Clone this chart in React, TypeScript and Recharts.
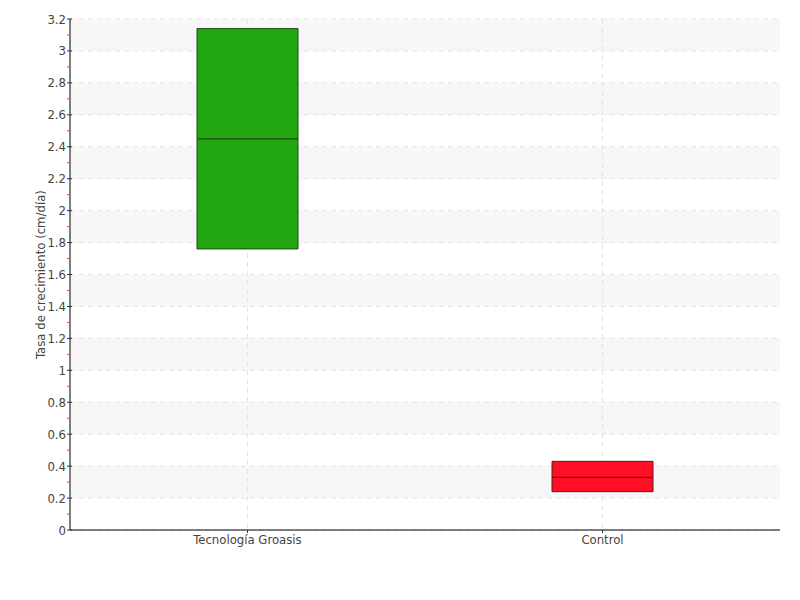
import { BarChart, Bar, XAxis, YAxis, CartesianGrid, Cell } from 'recharts';

const categories = ['Tecnología Groasis', 'Control'];
const q1Values = [1.76, 0.24];
const medianValues = [2.45, 0.33];
const q3Values = [3.14, 0.43];

const boxFills = ['#22a60f', '#ff0f26'];
const boxStrokes = ['#1f4a17', '#5a1a1a'];

const yTicks = [
  0, 0.1, 0.2, 0.3, 0.4, 0.5, 0.6, 0.7, 0.8, 0.9, 1, 1.1, 1.2, 1.3, 1.4, 1.5, 1.6,
  1.7, 1.8, 1.9, 2, 2.1, 2.2, 2.3, 2.4, 2.5, 2.6, 2.7, 2.8, 2.9, 3, 3.1, 3.2,
];
const gridValues = [0, 0.2, 0.4, 0.6, 0.8, 1, 1.2, 1.4, 1.6, 1.8, 2, 2.2, 2.4, 2.6, 2.8, 3, 3.2];

const FONT = '"DejaVu Sans Condensed", "Liberation Sans Narrow", sans-serif';

const rows = categories.map((name, i) => ({
  name,
  base: q1Values[i],
  lower: medianValues[i] - q1Values[i],
  upper: q3Values[i] - medianValues[i],
}));

function YTick({ x, y, payload }: { x?: number; y?: number; payload?: { value: number } }) {
  if (x == null || y == null || !payload) return null;
  const v = payload.value;
  const major = Math.round(v * 10) % 2 === 0;
  const ax = x + 4;
  if (!major) {
    return <line x1={ax - 3} x2={ax} y1={y} y2={y} stroke="#ff3b3b" />;
  }
  return (
    <g>
      <line x1={ax - 3} x2={ax + 2} y1={y} y2={y} stroke="#333" />
      <text x={x} y={y} dy={4.5} textAnchor="end" fontSize={13} fill="#444" fontFamily={FONT}>
        {Number(v.toFixed(1)).toString()}
      </text>
    </g>
  );
}

// vertical grid lines only through the category centres (band axis, no gaps)
const verticalAtCentres = (props: any) => {
  const off = props.offset;
  if (!off) return [];
  const n = categories.length;
  return categories.map((_, i) => off.left + (off.width * (i + 0.5)) / n);
};

export default function App() {
  return (
    <div style={{ position: 'absolute', left: 0, top: 0, background: '#fff' }}>
      <BarChart
        width={800}
        height={600}
        data={rows}
        margin={{ top: 19, right: 20, left: 10, bottom: 40 }}
        barCategoryGap={0}
      >
        <CartesianGrid
          stroke="#e4e4e4"
          strokeDasharray="5 4"
          horizontalValues={gridValues}
          horizontalFill={['#f7f7f7', '#ffffff']}
          verticalCoordinatesGenerator={verticalAtCentres}
        />
        <XAxis
          dataKey="name"
          height={30}
          tickSize={3}
          tickMargin={2}
          axisLine={{ stroke: '#000' }}
          tickLine={{ stroke: '#333' }}
          tick={{ fontSize: 13, fill: '#444', fontFamily: FONT }}
        />
        <YAxis
          type="number"
          domain={[0, 3.2]}
          ticks={yTicks}
          interval={0}
          width={60}
          tickSize={2}
          tickMargin={2}
          tickLine={false}
          axisLine={{ stroke: '#000' }}
          tick={<YTick />}
          label={{
            value: 'Tasa de crecimiento (cm/día)',
            angle: -90,
            position: 'center',
            fontSize: 13,
            fill: '#444',
            fontFamily: FONT,
          }}
        />
        <Bar dataKey="base" stackId="box" fill="transparent" barSize={101} isAnimationActive={false} />
        <Bar dataKey="lower" stackId="box" barSize={101} isAnimationActive={false}>
          {rows.map((r, i) => (
            <Cell key={`l-${r.name}`} fill={boxFills[i]} stroke={boxStrokes[i]} strokeWidth={1} />
          ))}
        </Bar>
        <Bar dataKey="upper" stackId="box" barSize={101} isAnimationActive={false}>
          {rows.map((r, i) => (
            <Cell key={`u-${r.name}`} fill={boxFills[i]} stroke={boxStrokes[i]} strokeWidth={1} />
          ))}
        </Bar>
      </BarChart>
    </div>
  );
}
